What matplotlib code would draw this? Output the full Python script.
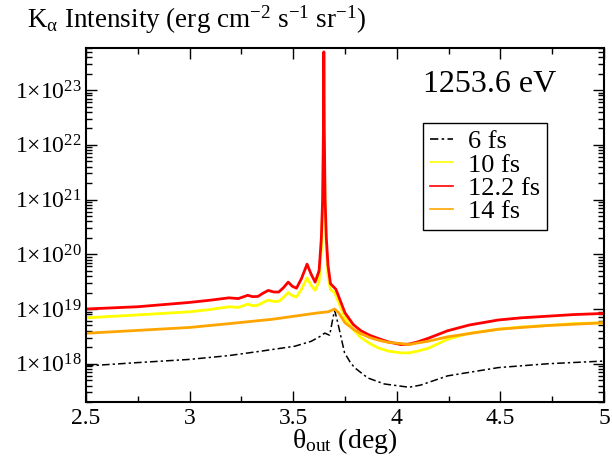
import math
import matplotlib
matplotlib.use("Agg")
import matplotlib.pyplot as plt
from matplotlib.ticker import FixedLocator, LogLocator, FuncFormatter, MultipleLocator

plt.rcParams['font.family'] = ['Liberation Serif', 'DejaVu Serif']
plt.rcParams['mathtext.fontset'] = 'custom'
plt.rcParams['mathtext.rm'] = 'Liberation Serif'
plt.rcParams['mathtext.it'] = 'Liberation Serif:italic'
plt.rcParams['mathtext.default'] = 'regular'

# 6 fs (black dash-dot)
theta_6 = [2.5, 2.75, 3.0, 3.19, 3.346, 3.508, 3.587, 3.63, 3.652, 3.676, 3.69, 3.70,
           3.712, 3.724, 3.748, 3.775, 3.796, 3.86, 3.94, 4.02, 4.06, 4.115, 4.245,
           4.49, 4.73, 5.0]
int_6 = [9.1e17, 1.05e18, 1.2e18, 1.41e18, 1.7e18, 2.09e18, 2.57e18, 3.16e18, 3.63e18,
         3.31e18, 6.3e18, 9.5e18, 6.3e18, 4.0e18, 1.58e18, 1.07e18, 8.5e17, 5.5e17,
         4.27e17, 3.89e17, 3.72e17, 4.07e17, 6.0e17, 8.5e17, 1.0e18, 1.12e18]

# 10 fs (yellow)
theta_10 = [2.5, 2.75, 3.0, 3.1, 3.19, 3.235, 3.258, 3.28, 3.305, 3.33, 3.355, 3.38, 3.405,
            3.43, 3.453, 3.476, 3.496, 3.516, 3.54, 3.567, 3.587, 3.606, 3.625, 3.636,
            3.642, 3.646, 3.648, 3.650, 3.654, 3.660, 3.668, 3.68, 3.70, 3.72, 3.75, 3.79,
            3.827, 3.87, 3.91, 3.96, 4.02, 4.06, 4.10, 4.15, 4.245, 4.35, 4.49, 4.6,
            4.73, 4.85, 5.0]
int_10 = [6.9e18, 7.8e18, 8.9e18, 9.8e18, 1.10e19, 1.07e19, 1.14e19, 1.23e19, 1.15e19,
          1.17e19, 1.32e19, 1.45e19, 1.38e19, 1.38e19, 1.62e19, 2.0e19, 1.75e19, 1.66e19,
          2.3e19, 3.7e19, 2.7e19, 2.2e19, 3.2e19, 1.26e20, 6.3e20, 1.0e22, 2.0e23, 1.0e22,
          6.3e20, 1.26e20, 4.0e19, 2.24e19, 2.0e19, 1.3e19, 6.9e18, 4.2e18, 3.0e18,
          2.34e18, 1.95e18, 1.7e18, 1.58e18, 1.58e18, 1.7e18, 1.9e18, 2.8e18, 3.6e18,
          4.27e18, 4.7e18, 5.0e18, 5.4e18, 5.6e18]

# 12.2 fs (red)
theta_122 = [2.5, 2.75, 3.0, 3.1, 3.19, 3.235, 3.258, 3.28, 3.305, 3.33, 3.355, 3.38, 3.405,
             3.43, 3.453, 3.476, 3.496, 3.516, 3.54, 3.567, 3.587, 3.606, 3.625, 3.636,
             3.642, 3.646, 3.648, 3.650, 3.654, 3.660, 3.668, 3.68, 3.706, 3.75, 3.79,
             3.827, 3.87, 3.91, 3.96, 4.02, 4.06, 4.10, 4.15, 4.245, 4.35, 4.49, 4.6,
             4.73, 4.85, 5.0]
int_122 = [1.0e19, 1.1e19, 1.32e19, 1.45e19, 1.6e19, 1.55e19, 1.66e19, 1.78e19, 1.68e19,
           1.7e19, 1.95e19, 2.19e19, 2.05e19, 2.04e19, 2.45e19, 3.1e19, 2.6e19, 2.4e19,
           3.6e19, 6.6e19, 4.3e19, 3.1e19, 5.0e19, 2.0e20, 1.0e21, 2.0e22, 5.0e23, 2.0e22,
           1.0e21, 2.0e20, 6.3e19, 2.9e19, 2.3e19, 8.5e18, 5.2e18, 4.0e18, 3.3e18,
           2.9e18, 2.5e18, 2.24e18, 2.29e18, 2.5e18, 2.9e18, 4.0e18, 5.1e18, 6.3e18,
           6.9e18, 7.4e18, 7.9e18, 8.3e18]

# 14 fs (orange)
theta_14 = [2.5, 3.0, 3.19, 3.4, 3.62, 3.67, 3.70, 3.72, 3.75, 3.79, 3.83, 3.87, 3.91,
            3.96, 4.02, 4.06, 4.10, 4.15, 4.245, 4.49, 4.73, 5.0]
int_14 = [3.6e18, 4.6e18, 5.4e18, 6.5e18, 8.5e18, 8.9e18, 1.0e19, 8.5e18, 5.6e18, 4.3e18,
          3.5e18, 3.0e18, 2.7e18, 2.45e18, 2.34e18, 2.24e18, 2.4e18, 2.57e18, 3.1e18,
          4.27e18, 5.0e18, 5.6e18]

y_exponents = [18, 19, 20, 21, 22, 23]

fig = plt.figure(figsize=(6.12, 4.59), dpi=100)
ax = fig.add_axes([0.1405, 0.1242, 0.8464, 0.7723])

ax.plot(theta_6, int_6, color="black", lw=1.1, dashes=(5, 2, 1.5, 2), label="6 fs")
ax.plot(theta_10, int_10, color="#ffff00", lw=2, label="10 fs")
ax.plot(theta_122, int_122, color="#ff0000", lw=2, label="12.2 fs")
ax.plot(theta_14, int_14, color="#ffa500", lw=2, label="14 fs")

ax.set_yscale("log")
ax.set_xlim(2.5, 5)
ax.set_ylim(2.0e17, 6.0e23)

ax.xaxis.set_major_locator(MultipleLocator(0.5))
ax.xaxis.set_minor_locator(MultipleLocator(0.25))
ax.xaxis.set_major_formatter(FuncFormatter(lambda v, p: "%g" % v))
ax.yaxis.set_major_locator(FixedLocator([10.0 ** e for e in y_exponents]))
ax.yaxis.set_minor_locator(LogLocator(base=10, subs=range(2, 10), numticks=20))
ax.yaxis.set_major_formatter(FuncFormatter(
    lambda v, p: r"1$\times$10$^{%d}$" % round(math.log10(v))))

ax.tick_params(which="both", direction="in", top=True, right=True, width=1)
ax.tick_params(which="major", length=8)
ax.tick_params(which="minor", length=4)
ax.tick_params(axis="y", labelsize=17, pad=3)
ax.tick_params(axis="x", labelsize=17, pad=4)
for s in ax.spines.values():
    s.set_linewidth(1.5)

ax.set_xlabel(r"$\theta_{out}$ (deg)", fontsize=20, labelpad=-2)

fig.text(27 / 612, 1 - 28 / 459,
         r"K$_{\alpha}$ Intensity (erg cm$^{-2}$ s$^{-1}$ sr$^{-1}$)",
         fontsize=19.5, va="baseline", ha="left")
fig.text(423 / 612, 1 - 92 / 459, "1253.6 eV", fontsize=23, va="baseline", ha="left")

leg = ax.legend(loc="upper left", bbox_to_anchor=(423 / 612, 1 - 123 / 459),
                bbox_transform=fig.transFigure, borderaxespad=0, fontsize=19,
                frameon=True, fancybox=False, framealpha=1, edgecolor="black",
                labelspacing=0.0, handlelength=0.9, handletextpad=0.55, borderpad=0.25)
leg.get_frame().set_linewidth(1)
# legend swatches are thin in the reference
for h in leg.get_lines():
    h.set_linewidth(1.2)

fig.savefig("out.png", dpi=100)
